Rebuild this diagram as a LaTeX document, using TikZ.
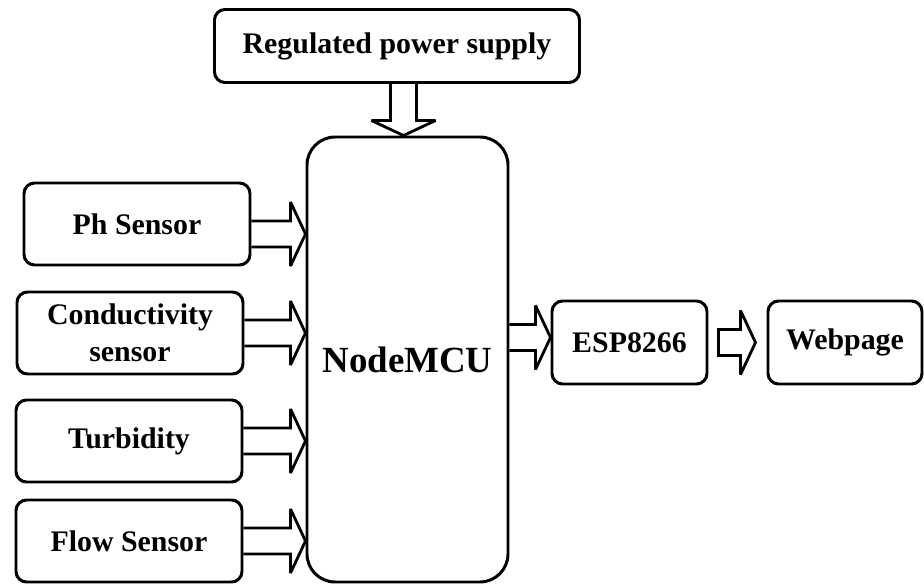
\documentclass[tikz,border=0pt]{standalone}
\usepackage{fontspec}
\setmainfont{Liberation Serif}
\usetikzlibrary{calc}
\newcommand{\arrend}{}

\begin{document}
\begin{tikzpicture}[x=0.02cm,y=-0.02cm,
  blk/.style={draw,line width=1.7pt,rounded corners=6pt,align=center,font=\fontsize{17}{21}\selectfont\bfseries,inner sep=2pt},
  sens/.style={blk,minimum width=226*0.02cm,minimum height=82*0.02cm},
  closed/.code={\def\arrend{-- cycle}},
  darr/.style={draw,line width=1.6pt,miter limit=4,to path={let \p1=($(\tikztotarget)-(\tikztostart)$), \n1={atan2(\y1,\x1)} in
    ($(\tikztostart)+(\n1+90:0.26cm)$) -- ($(\tikztotarget)+(\n1+180:0.3cm)+(\n1+90:0.26cm)$)
    -- ($(\tikztotarget)+(\n1+180:0.3cm)+(\n1+90:0.64cm)$) -- (\tikztotarget)
    -- ($(\tikztotarget)+(\n1+180:0.3cm)+(\n1-90:0.64cm)$) -- ($(\tikztotarget)+(\n1+180:0.3cm)+(\n1-90:0.26cm)$)
    -- ($(\tikztostart)+(\n1-90:0.26cm)$) \arrend}}]
  \useasboundingbox (0,0) rectangle (924,585);
  \node[blk,minimum width=365*0.02cm,minimum height=73*0.02cm] (rps) at (397,46) {Regulated power supply};
  \node[blk,rounded corners=16pt,minimum width=201*0.02cm,minimum height=445*0.02cm,font=\fontsize{21}{24}\selectfont\bfseries] (mcu) at (407.5,359.5) {NodeMCU};
  \node[sens] (ph) at (137,224) {Ph Sensor};
  \node[sens] (cond) at (130,333) {Conductivity\\sensor};
  \node[sens] (turb) at (129,441) {Turbidity};
  \node[sens] (flow) at (129,541) {Flow Sensor};
  \node[blk,minimum width=155*0.02cm,minimum height=83*0.02cm] (esp) at (629.5,342.5) {ESP8266};
  \node[blk,minimum width=154*0.02cm,minimum height=83*0.02cm] (web) at (845,342.5) {Webpage};
  % arrows into the controller
  \draw[darr] ([xshift=-4*0.02cm]rps.south -| mcu.north) to ([xshift=-4*0.02cm]mcu.north);
  \foreach \s/\d in {ph/10,cond/0,turb/0,flow/0}
    \draw[darr] ([yshift=-\d*0.02cm]\s.east) to ([yshift=-\d*0.02cm]\s.east -| mcu.west);
  % out to the network
  \draw[darr] ([yshift=5*0.02cm]mcu.east |- esp.west) to ([yshift=5*0.02cm]esp.west);
  \draw[darr,closed] ([xshift=10*0.02cm]esp.east) to ([xshift=-11*0.02cm]web.west);
\end{tikzpicture}
\end{document}
